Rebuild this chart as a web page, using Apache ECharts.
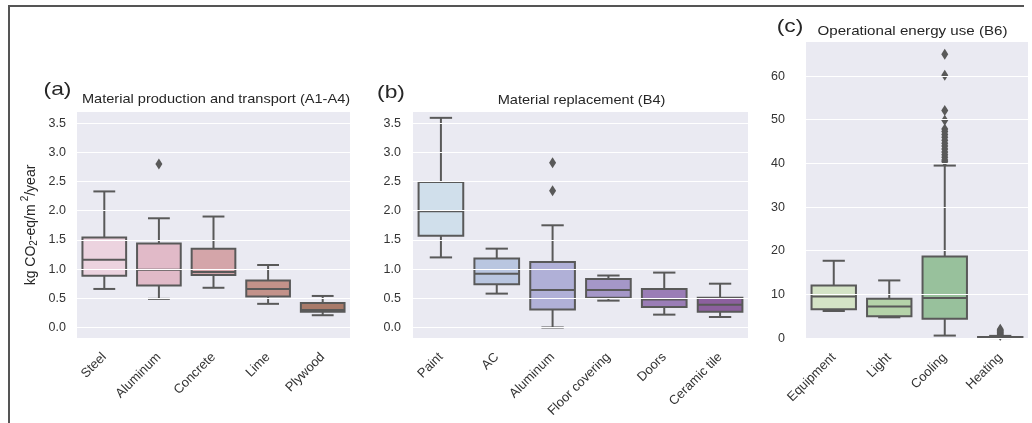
<!DOCTYPE html>
<html>
<head>
<meta charset="utf-8">
<script src="https://cdn.jsdelivr.net/npm/echarts@6/dist/echarts.min.js"></script>
<style>
html,body{margin:0;padding:0;background:#fff;}
#chart{width:1032px;height:423px;}
</style>
</head>
<body>
<div id="chart"></div>
<script>
// ---------- data ----------
// each box: [low whisker, Q1, median, Q3, high whisker]
const catsA = ['Steel', 'Aluminum', 'Concrete', 'Lime', 'Plywood'];
const boxesA = [
  [0.66, 0.885, 1.16, 1.54, 2.33],
  [0.49, 0.72, 0.99, 1.44, 1.87],
  [0.68, 0.90, 0.95, 1.35, 1.90],
  [0.405, 0.53, 0.66, 0.805, 1.07],
  [0.21, 0.27, 0.30, 0.42, 0.54]
];
const outliersA = [[1, 2.80]];

const catsB = ['Paint', 'AC', 'Aluminum', 'Floor covering', 'Doors', 'Ceramic tile'];
const boxesB = [
  [1.20, 1.57, 1.99, 2.49, 3.59],
  [0.58, 0.74, 0.92, 1.18, 1.35],
  [0.00, 0.31, 0.64, 1.12, 1.75],
  [0.46, 0.51, 0.64, 0.83, 0.89],
  [0.22, 0.35, 0.48, 0.66, 0.94],
  [0.18, 0.27, 0.39, 0.51, 0.75]
];
const outliersB = [[2, 2.82], [2, 2.34]];

const catsC = ['Equipment', 'Light', 'Cooling', 'Heating'];
const boxesC = [
  [6.2, 6.6, 9.5, 12.05, 17.7],
  [4.75, 5.0, 7.2, 9.0, 13.2],
  [0.57, 4.45, 9.2, 18.7, 39.5],
  [0.0, 0.05, 0.12, 0.25, 0.5]
];
const outliersC = [
  [2, 65.0], [2, 60.2], [2, 52.1], [2, 49.9], [2, 47.9], [2, 47.3], [2, 46.6],
  [2, 46.0], [2, 45.3], [2, 44.6], [2, 44.0], [2, 43.3], [2, 42.6], [2, 42.0],
  [2, 41.4], [2, 40.8], [2, 40.4],
  [3, 0.6], [3, 0.8], [3, 1.0], [3, 1.2], [3, 1.4], [3, 1.6], [3, 1.8], [3, 2.0]
];

const ticksAB = [0, 0.5, 1.0, 1.5, 2.0, 2.5, 3.0, 3.5];
const ticksC = [0, 10, 20, 30, 40, 50, 60];

// ---------- styles ----------
const colorsA = ['#ecd3df', '#e1bac8', '#d4a5a9', '#c3928a', '#a87a6a'];
const colorsB = ['#d0dfeb', '#b9c6e0', '#b0b0d7', '#a597c8', '#9a7db6', '#8c609e'];
const colorsC = ['#d4e3c6', '#b5d3a9', '#98c19c', '#74a884'];
const EDGE = '#595959';
const TXT = '#333333';
const FONT = 'Liberation Sans, Arial, sans-serif';

const grids = [
  {left: 77, top: 112, width: 273, height: 226},
  {left: 413, top: 112, width: 335, height: 226},
  {left: 806, top: 42, width: 222, height: 296.5}
];

function boxRender(colors) {
  return function (params, api) {
    const i = api.value(0);
    const lo = api.coord([i, api.value(1)]);
    const q1 = api.coord([i, api.value(2)]);
    const md = api.coord([i, api.value(3)]);
    const q3 = api.coord([i, api.value(4)]);
    const hi = api.coord([i, api.value(5)]);
    const bw = api.size([1, 0])[0] * 0.8;
    const x = lo[0];
    const hw = bw / 2, cw = bw / 4;
    const ls = {stroke: EDGE, lineWidth: 2};
    return {
      type: 'group',
      children: [
        {type: 'line', shape: {x1: x, y1: q3[1], x2: x, y2: hi[1]}, style: ls},
        {type: 'line', shape: {x1: x, y1: q1[1], x2: x, y2: lo[1]}, style: ls},
        {type: 'line', shape: {x1: x - cw, y1: hi[1], x2: x + cw, y2: hi[1]}, style: ls},
        {type: 'line', shape: {x1: x - cw, y1: lo[1], x2: x + cw, y2: lo[1]}, style: ls},
        {type: 'rect', shape: {x: x - hw, y: q3[1], width: bw, height: Math.max(q1[1] - q3[1], 0.5)},
          style: {fill: colors[i], stroke: EDGE, lineWidth: 2}},
        {type: 'line', shape: {x1: x - hw, y1: md[1], x2: x + hw, y2: md[1]}, style: ls}
      ]
    };
  };
}

function gridLineSeries(idx, ticks) {
  return {
    type: 'line', xAxisIndex: idx, yAxisIndex: idx, data: [], silent: true, z: 1,
    markLine: {
      silent: true, symbol: 'none', label: {show: false},
      lineStyle: {color: '#ffffff', width: 1.1, type: 'solid'},
      data: ticks.map(t => ({yAxis: t}))
    }
  };
}

function xAxis(idx, cats) {
  return {
    type: 'category', gridIndex: idx, data: cats, boundaryGap: true,
    axisLine: {show: false}, axisTick: {show: false}, splitLine: {show: false},
    axisLabel: {rotate: 45, margin: 17, color: TXT, fontSize: 13, fontFamily: FONT, interval: 0}
  };
}

function yAxis(idx, min, max, ticks, digits, margin) {
  return {
    type: 'value', gridIndex: idx, min: min, max: max,
    axisLine: {show: false}, axisTick: {show: false}, splitLine: {show: false},
    axisLabel: {
      customValues: ticks, margin: margin, color: TXT, fontSize: 12.5, fontFamily: FONT,
      formatter: v => Number(v).toFixed(digits)
    }
  };
}

function boxSeries(idx, boxes, colors) {
  return {
    type: 'custom', xAxisIndex: idx, yAxisIndex: idx, z: 3,
    renderItem: boxRender(colors),
    encode: {x: 0, y: [1, 2, 3, 4, 5]},
    data: boxes.map((b, i) => [i].concat(b))
  };
}

function outlierSeries(idx, pts) {
  return {
    type: 'scatter', xAxisIndex: idx, yAxisIndex: idx, z: 4,
    symbol: 'diamond', symbolSize: [7, 11],
    itemStyle: {color: EDGE, opacity: 1},
    data: pts
  };
}

const chart = echarts.init(document.getElementById('chart'), null, {renderer: 'canvas'});

const txt = (x, y, text, size, sx) => ({
  type: 'text', x: x, y: y, silent: true, scaleX: sx || 1,
  style: {text: text, fill: '#262626', font: size + 'px ' + FONT, textAlign: 'center', textVerticalAlign: 'middle'}
});

chart.setOption({
  animation: false,
  backgroundColor: '#ffffff',
  grid: grids.map(g => Object.assign({show: true, backgroundColor: '#eaeaf2', borderWidth: 0}, g)),
  xAxis: [xAxis(0, catsA), xAxis(1, catsB), xAxis(2, catsC)],
  yAxis: [
    yAxis(0, -0.18, 3.69, ticksAB, 1, 11),
    yAxis(1, -0.18, 3.69, ticksAB, 1, 12),
    yAxis(2, -0.1, 67.8, ticksC, 0, 21)
  ],
  series: [
    gridLineSeries(0, ticksAB), gridLineSeries(1, ticksAB), gridLineSeries(2, ticksC),
    boxSeries(0, boxesA, colorsA), boxSeries(1, boxesB, colorsB), boxSeries(2, boxesC, colorsC),
    outlierSeries(0, outliersA), outlierSeries(1, outliersB), outlierSeries(2, outliersC)
  ],
  graphic: [
    {type: 'line', silent: true, shape: {x1: 9, y1: 6, x2: 9, y2: 423}, style: {stroke: '#555', lineWidth: 2}},
    {type: 'line', silent: true, shape: {x1: 8, y1: 6, x2: 1024, y2: 6}, style: {stroke: '#555', lineWidth: 2}},
    txt(57.5, 90, '(a)', 19, 1.2),
    txt(216, 99.5, 'Material production and transport (A1-A4)', 13.5, 1.08),
    txt(391, 93, '(b)', 19, 1.2),
    txt(581.5, 100, 'Material replacement (B4)', 13.5, 1.08),
    txt(790, 27, '(c)', 19, 1.2),
    txt(912.5, 31, 'Operational energy use (B6)', 13.5, 1.12),
    {
      type: 'text', x: 31, y: 225, rotation: Math.PI / 2, silent: true,
      style: {
        text: 'kg CO{sub|2}-eq/m{sup|2}/year',
        fill: '#262626', font: '14px ' + FONT,
        textAlign: 'center', textVerticalAlign: 'middle',
        rich: {
          sub: {fontSize: 10, fontFamily: FONT, fill: '#262626', padding: [7, 0, 0, 0]},
          sup: {fontSize: 10, fontFamily: FONT, fill: '#262626', padding: [0, 0, 11, 3]}
        }
      }
    }
  ]
});
</script>
</body>
</html>
